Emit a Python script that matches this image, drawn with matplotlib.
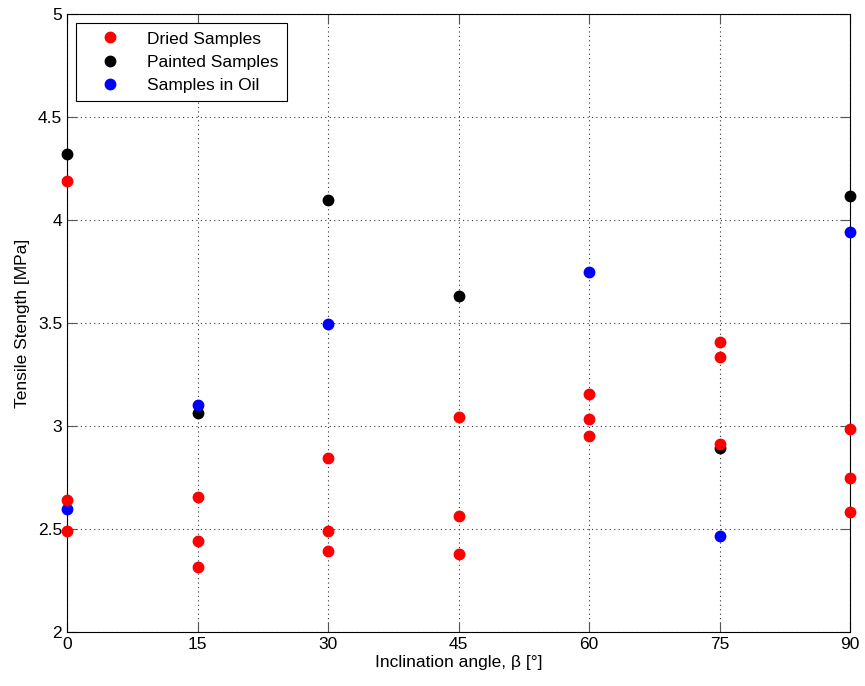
import matplotlib
matplotlib.use("Agg")
import matplotlib.pyplot as plt

plt.rcParams['font.family'] = ['Liberation Sans', 'DejaVu Sans']

# Datos
dried_x = [0, 0, 0, 15, 15, 15, 30, 30, 30, 45, 45, 45, 60, 60, 60, 75, 75, 75, 90, 90, 90]
dried_y = [4.19, 2.64, 2.49, 2.655, 2.44, 2.315, 2.847, 2.492, 2.393, 3.045, 2.565, 2.38,
           3.155, 3.036, 2.95, 3.408, 3.337, 2.914, 2.985, 2.748, 2.584]

painted_x = [0, 15, 30, 45, 75, 90]
painted_y = [4.32, 3.062, 4.097, 3.633, 2.892, 4.118]

oil_x = [0, 15, 30, 60, 75, 90]
oil_y = [2.597, 3.102, 3.495, 3.75, 2.466, 3.943]

x_ticks = [0, 15, 30, 45, 60, 75, 90]
y_ticks = [2, 2.5, 3, 3.5, 4, 4.5, 5]
y_tick_labels = ['2', '2.5', '3', '3.5', '4', '4.5', '5']


def main():
    fig = plt.figure(figsize=(8.65, 6.86), dpi=100)
    ax = fig.add_axes([0.0775, 0.0787, 0.9052, 0.9009])

    ms = 7.5
    h_black, = ax.plot(painted_x, painted_y, 'o', color='black', markersize=ms,
                       linestyle='none', clip_on=False, zorder=3, label='Painted Samples')
    h_blue, = ax.plot(oil_x, oil_y, 'o', color='blue', markersize=ms,
                      linestyle='none', clip_on=False, zorder=4, label='Samples in Oil')
    h_red, = ax.plot(dried_x, dried_y, 'o', color='red', markersize=ms,
                     linestyle='none', clip_on=False, zorder=5, label='Dried Samples')

    ax.set_xlim(0, 90)
    ax.set_ylim(2, 5)
    ax.set_xticks(x_ticks)
    ax.set_yticks(y_ticks)
    ax.set_yticklabels(y_tick_labels)
    ax.tick_params(direction='in', length=7, top=True, right=True, labelsize=12.5,
                   color='#555555')
    ax.grid(True, linestyle=(0, (1, 3)), color='#333333', linewidth=0.8)
    for s in ax.spines.values():
        s.set_color('black')
        s.set_linewidth(0.8)

    ax.set_xlabel('Inclination angle, β [°]', fontsize=12.5, labelpad=2)
    ax.set_ylabel('Tensile Stength [MPa]', fontsize=12.5, labelpad=6)

    leg = ax.legend(handles=[h_red, h_black, h_blue], loc='upper left',
                    fontsize=12.5, fancybox=False, framealpha=1, edgecolor='black',
                    borderaxespad=0.5, handletextpad=0.6, borderpad=0.5,
                    handlelength=3.0, labelspacing=0.46)
    leg.get_frame().set_linewidth(0.8)

    fig.savefig('out.png', dpi=100)


if __name__ == "__main__":
    main()
